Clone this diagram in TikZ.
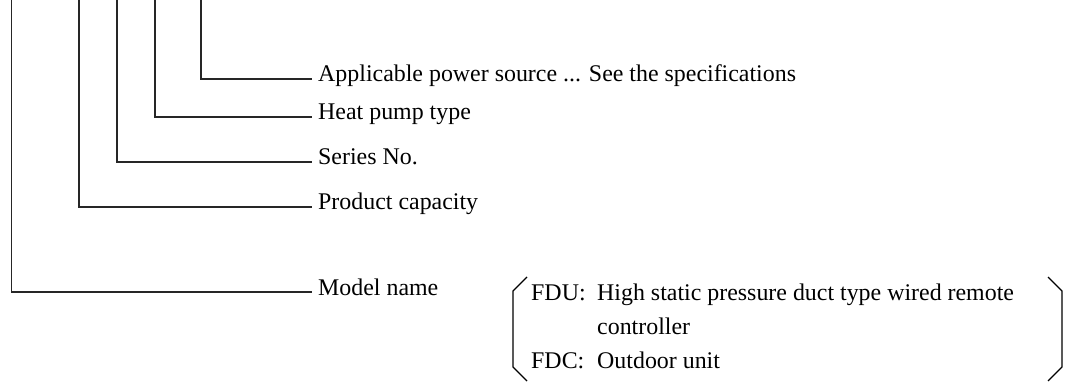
\documentclass[tikz,border=0pt]{standalone}
\usepackage{fontspec}
\setmainfont{Liberation Serif}
\usetikzlibrary{calc}
\begin{document}
\begin{tikzpicture}[x=1pt,y=-1pt,
  lbl/.style={anchor=base west,inner sep=0pt,font=\fontsize{23.9}{28}\selectfont},
  conn/.style={line width=1.3pt,black!85},
  brk/.style={line width=1.1pt}]
\useasboundingbox (0,0) rectangle (1068,382);
\node[lbl] (ap) at (318,82) {Applicable power source ... See the specifications};
\node[lbl] (hp) at (318,120) {Heat pump type};
\node[lbl] (sn) at (318,165) {Series No.};
\node[lbl] (pc) at (318,210) {Product capacity};
\node[lbl] (mn) at (318,295) {Model name};
\coordinate (t1) at (201,0);
\coordinate (t2) at (155,0);
\coordinate (t3) at (117,0);
\coordinate (t4) at (79,0);
\coordinate (t5) at (11.5,0);
\draw[conn] (t1) |- ($(ap.base west)+(-6,-3)$);
\draw[conn] (t2) |- ($(hp.base west)+(-6,-3)$);
\draw[conn] (t3) |- ($(sn.base west)+(-6,-3)$);
\draw[conn] (t4) |- ($(pc.base west)+(-6,-3)$);
\draw[conn] (t5) |- ($(mn.base west)+(-6,-3)$);
\node[lbl] (fdu) at (531,300) {FDU:};
\node[lbl] (fdut) at (597,300) {High static pressure duct type wired remote};
\node[lbl] (fduc) at (597,334) {controller};
\node[lbl] (fdc) at (531,368) {FDC:};
\node[lbl] (fdct) at (597,368) {Outdoor unit};
\coordinate (l1) at (527,277); \coordinate (l2) at (513,291);
\coordinate (l3) at (513,367); \coordinate (l4) at (527,381);
\coordinate (r1) at (1048,277); \coordinate (r2) at (1062,291);
\coordinate (r3) at (1062,367); \coordinate (r4) at (1048,381);
\draw[brk] (l1) -- (l2) -- (l3) -- (l4);
\draw[brk] (r1) -- (r2) -- (r3) -- (r4);
\end{tikzpicture}
\end{document}
